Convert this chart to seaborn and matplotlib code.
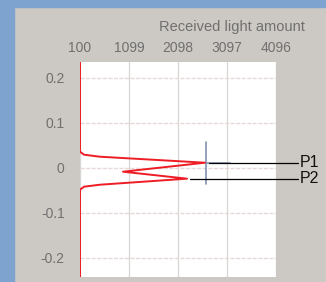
import matplotlib
matplotlib.use("Agg")
import matplotlib.pyplot as plt
import seaborn as sns
from matplotlib.patches import Rectangle

sns.set_style("white")
plt.rcParams['font.family'] = ['Liberation Sans', 'DejaVu Sans']

# Data
x_ticks = [100, 1099, 2098, 3097, 4096]
y_ticks = [0.2, 0.1, 0, -0.1, -0.2]
y_tick_labels = ['0.2', '0.1', '0', '-0.1', '-0.2']

# waveform: position (vertical) vs received light amount (horizontal)
position = [0.235, 0.0356, 0.0289, 0.0244, 0.0111, -0.0089, -0.0244, -0.0378, -0.0422, -0.0489, -0.243]
light = [100, 100, 182, 508, 2649, 977, 2282, 508, 182, 100, 100]

peak_names = ['P1', 'P2']
peak_pos = [0.0111, -0.0244]
peak_light = [2730, 2340]

cross_x = 2670
cross_y = [0.0578, -0.0356]
cross_h = [2670, 3158]

fig = plt.figure(figsize=(3.26, 2.82), dpi=100, facecolor='#ccc9c4')
fig.patches.append(Rectangle((0, 0), 14 / 326, 1, transform=fig.transFigure,
                             color='#7fa3cf', zorder=0))
fig.patches.append(Rectangle((0, 1 - 7 / 282), 1, 7 / 282, transform=fig.transFigure,
                             color='#7fa3cf', zorder=0))

ax = fig.add_axes([80 / 326, 1 - 277 / 282, 196 / 326, 215 / 282])
ax.set_facecolor('white')

ax.set_xlim(100, 4096)
ax.set_ylim(-0.243, 0.235)
ax.set_xticks(x_ticks)
ax.set_xticklabels([str(v) for v in x_ticks])
ax.set_yticks(y_ticks)
ax.set_yticklabels(y_tick_labels)
ax.xaxis.tick_top()
ax.tick_params(axis='both', length=0, labelsize=10, colors='#707070', pad=5)
ax.tick_params(axis='y', pad=11)
for s in ax.spines.values():
    s.set_visible(False)

for xv in x_ticks:
    ax.axvline(xv, color='#d9d5d2', lw=0.9, zorder=0)
for yv in y_ticks:
    ax.axhline(yv, color='#e6d9d9', lw=1.0, ls=(0, (3, 1)), zorder=0)

# crosshair
ax.plot([cross_x, cross_x], cross_y, color='#8390b0', lw=1.2, zorder=2)
ax.plot(cross_h, [peak_pos[0], peak_pos[0]], color='#8390b0', lw=1.2, zorder=2)

sns.lineplot(x=light, y=position, sort=False, estimator=None, color='#ee1c24',
             lw=1.4, ax=ax, zorder=3)

# leader lines and labels
for name, py, px in zip(peak_names, peak_pos, peak_light):
    ax.plot([px, 4545], [py, py], color='black', lw=0.9, clip_on=False, zorder=4)
    ax.text(4590, py, name, fontsize=11.5, color='#111111', va='center', ha='left',
            clip_on=False)

fig.text(232 / 326, 1 - 27 / 282, 'Received light amount', fontsize=10.5,
         color='#707070', ha='center', va='center')

fig.savefig('out.png', dpi=100, facecolor=fig.get_facecolor())
